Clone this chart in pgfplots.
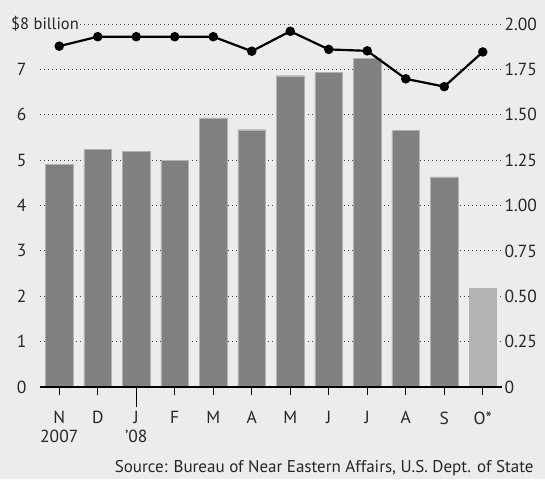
\documentclass[border=0pt]{standalone}
\usepackage{pgfplots}
\pgfplotsset{compat=1.18}
\usepackage{fontspec}
\setmainfont{PT Sans}
\definecolor{bg}{HTML}{ECECEC}
\definecolor{barc}{HTML}{808080}
\definecolor{barlt}{HTML}{B3B3B3}
\newcommand\tf{\fontsize{17.5}{19}\selectfont}
\begin{document}
\begin{tikzpicture}[x=1pt,y=1pt]
\fill[bg] (0,0) rectangle (545,479);
\pgfplotsset{
  base/.style={at={(40pt,92pt)}, anchor=south west, scale only axis,
    width=462pt, height=363pt, xmin=-0.5, xmax=11.5,
    axis line style={draw=none},
    /pgf/number format/assume math mode=true,
  }
}
\begin{axis}[base, ymin=0, ymax=8,
  ytick={0,1,2,3,4,5,6,7,8},
  yticklabels={0,1,2,3,4,5,6,7,{}},
  ytick style={draw=none},
  yticklabel style={font=\tf, text=black!85, xshift=-2pt},
  ymajorgrids, grid style={black!75, line width=0.8pt, dash pattern=on 1.1pt off 2.9pt},
  xtick={0,...,11},
  xticklabels={N\\2007,D,J\\’08,F,M,A,M,J,J,A,S,O*},
  xticklabel style={font=\tf, text=black!85, align=center, yshift=-13pt},
  tick pos=left, tick align=outside,
  xtick style={black, line width=1pt},
  major tick length=8pt,
  extra x ticks={2}, extra x tick labels={},
  extra x tick style={major tick length=20pt, xtick style={black, line width=1pt}},
  ybar, bar width=27.8pt, bar shift=0pt,
  clip=false]
\addplot[fill=barc, draw=black!30, line width=0.4pt] coordinates {
 (0,4.90) (1,5.24) (2,5.20) (3,5.00) (4,5.93) (5,5.67) (6,6.86) (7,6.93) (8,7.24) (9,5.65) (10,4.63)};
\addplot[fill=barlt, draw=none] coordinates {(11,2.18)};
\draw[black, line width=1.3pt] (axis cs:-0.5,0) -- (axis cs:11.5,0);
\end{axis}
\begin{axis}[base, ymin=0, ymax=2,
  hide x axis,
  ytick={0,0.25,0.5,0.75,1,1.25,1.5,1.75,2},
  yticklabels={0,0.25,0.50,0.75,1.00,1.25,1.50,1.75,2.00},
  yticklabel pos=right, ytick style={draw=none},
  yticklabel style={font=\tf, text=black!85, xshift=-1pt},
  clip=false]
\addplot[black, line width=2.2pt, mark=*, mark size=3.6pt] coordinates {
 (0,1.878) (1,1.930) (2,1.930) (3,1.930) (4,1.930) (5,1.850) (6,1.960) (7,1.860) (8,1.852) (9,1.698) (10,1.655) (11,1.846)};
\end{axis}
\node[anchor=west, fill=bg, inner xsep=1pt, inner ysep=2pt, font=\fontsize{16.5}{20}\selectfont, text=black!85] at (10,455) {\$8 billion};
\node[anchor=east, font=\fontsize{17}{20}\selectfont, text=black!85] at (537,11) {Source: Bureau of Near Eastern Affairs, U.S. Dept. of State};
\end{tikzpicture}
\end{document}
